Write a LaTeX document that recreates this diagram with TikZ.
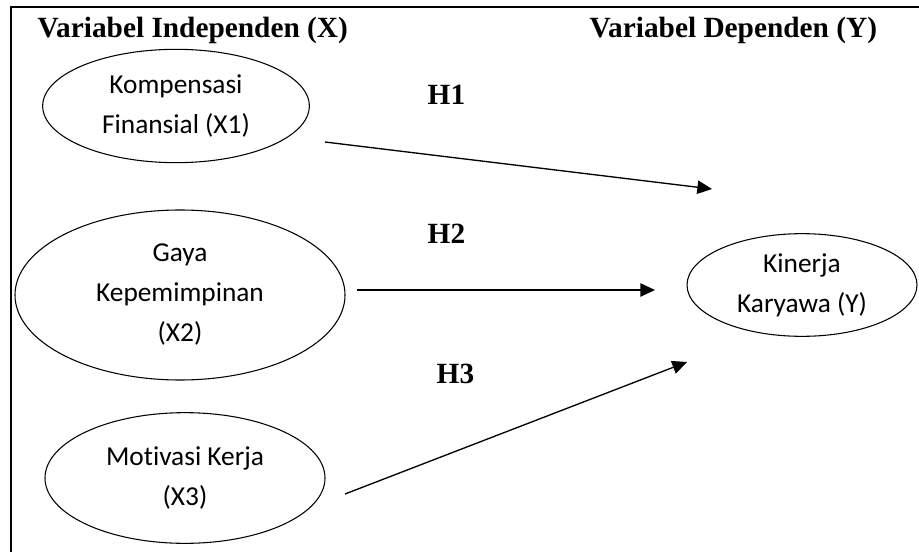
\documentclass[tikz,border=0pt]{standalone}
\usepackage{fontspec}
\setmainfont{Liberation Serif}
\newfontfamily\calibri[Ligatures=NoCommon]{Carlito}
\usetikzlibrary{shapes.geometric,arrows.meta}

\begin{document}
\begin{tikzpicture}[x=0.75pt, y=-0.75pt,
    var/.style={draw, ellipse, line width=0.8pt, inner sep=0pt, align=center,
      font=\calibri\fontsize{20.5}{30}\selectfont},
    head/.style={anchor=base west, font=\bfseries\fontsize{22}{26}\selectfont},
    arr/.style={line width=1pt, -{Triangle[length=11pt, width=10pt]}}]
      \useasboundingbox (0,0) rectangle (919,552);
      \draw [line width=1.6pt] (11,552) -- (11,7) -- (919,7);
      \node (hx) [head] at (33,38) {Variabel Independen (X)};
      \node (hy) [head] at (585,38) {Variabel Dependen (Y)};
      \node (x1) [var, minimum width=200pt, minimum height=85pt] at (176,106) {Kompensasi\\Finansial (X1)};
      \node (x2) [var, minimum width=247.5pt, minimum height=127.5pt] at (180,295) {Gaya\\Kepemimpinan\\(X2)};
      \node (x3) [var, minimum width=210pt, minimum height=98pt] at (185,478) {Motivasi Kerja\\(X3)};
      \node (y) [var, minimum width=172.5pt, minimum height=77pt] at (802,285) {Kinerja\\Karyawa (Y)};
      \node (h1) [head] at (423,105) {H1};
      \node (h2) [head] at (423,243) {H2};
      \node (h3) [head] at (432,383) {H3};
      \coordinate (s1) at (325,142);
      \coordinate (e1) at (712,189);
      \coordinate (s2) at (357,290);
      \coordinate (e2) at (655,290);
      \coordinate (s3) at (345,494);
      \coordinate (e3) at (687,362);
      \draw [arr] (s1) to (e1);
      \draw [arr] (s2) to (e2);
      \draw [arr] (s3) to (e3);
\end{tikzpicture}
\end{document}
